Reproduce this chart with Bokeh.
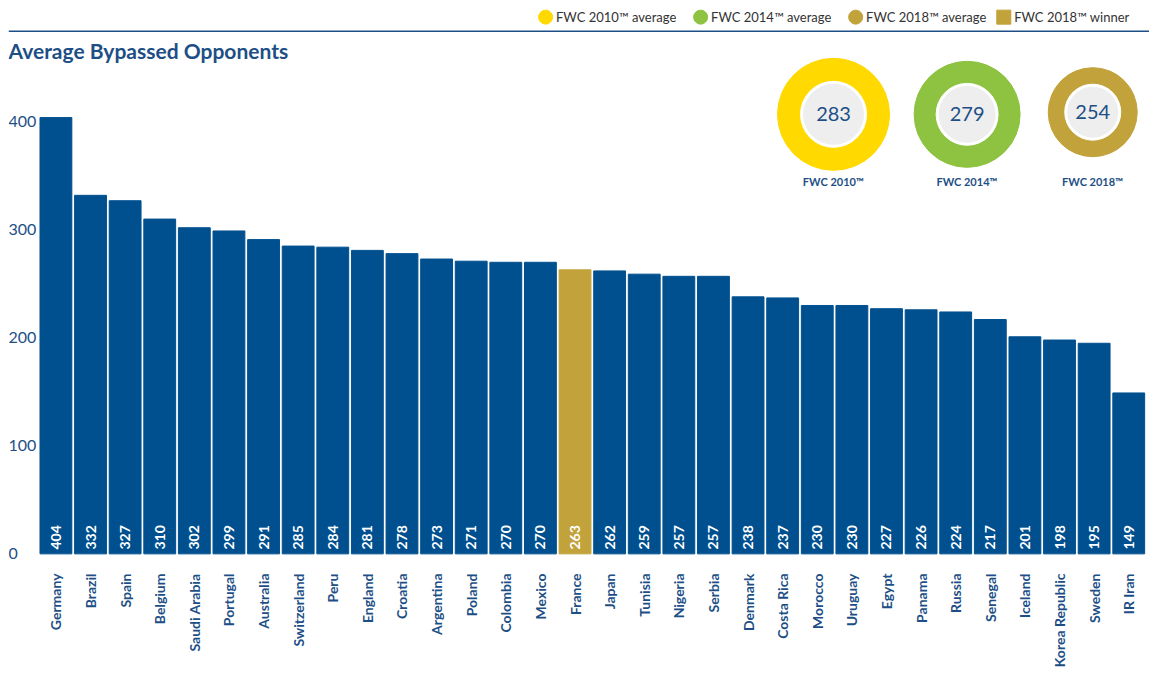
import math
from bokeh.plotting import figure
from bokeh.models import ColumnDataSource, Span, FixedTicker
from bokeh.core.properties import value
from bokeh.embed import file_html
from bokeh.resources import INLINE

teams = ["Germany","Brazil","Spain","Belgium","Saudi Arabia","Portugal","Australia","Switzerland","Peru","England",
         "Croatia","Argentina","Poland","Colombia","Mexico","France","Japan","Tunisia","Nigeria","Serbia",
         "Denmark","Costa Rica","Morocco","Uruguay","Egypt","Panama","Russia","Senegal","Iceland","Korea Republic",
         "Sweden","IR Iran"]
values = [404,332,327,310,302,299,291,285,284,281,278,273,271,270,270,263,262,259,257,257,
          238,237,230,230,227,226,224,217,201,198,195,149]
winner = "France"
y_ticks = [0, 100, 200, 300, 400]
avg_labels = ["FWC 2010™", "FWC 2014™", "FWC 2018™"]
avg_values = [283, 279, 254]
legend_labels = ["FWC 2010™ average", "FWC 2014™ average", "FWC 2018™ average", "FWC 2018™ winner"]

BLUE = "#00508f"
TXT = "#1d4f86"
GOLD = "#c2a23a"
ring_colors = ["#ffd900", "#8dc340", "#c2a23a"]

FONT = "Lato"
idx = list(range(len(teams)))
colors = [GOLD if t == winner else BLUE for t in teams]

p = figure(frame_width=1141, frame_height=554, x_range=(-1.37, 31.6), y_range=(-8, 505),
           output_backend="svg", toolbar_location=None, min_border_left=8, min_border_right=0,
           min_border_top=8)
p.outline_line_color = None
p.grid.visible = False
p.yaxis.visible = False
p.background_fill_color = "white"

src = ColumnDataSource(dict(x=idx, top=values, color=colors, lab=[str(v) for v in values]))
p.vbar(x="x", top="top", bottom=0, width=0.92, color="color", source=src)
p.text(x="x", y=4, text="lab", source=src, angle=math.pi/2, text_align="left", text_baseline="middle",
       text_color="white", text_font=value(FONT), text_font_size="14px", text_font_style="bold")

# y tick labels
p.text(x=[-1.37]*len(y_ticks), y=y_ticks, text=[str(t) for t in y_ticks], text_align="left",
       text_baseline="middle", text_color=TXT, text_font=value(FONT), text_font_size="16px")

# x axis
p.xaxis.ticker = FixedTicker(ticks=idx)
p.xaxis.major_label_overrides = {i: t for i, t in enumerate(teams)}
p.xaxis.major_label_orientation = math.pi/2
p.xaxis.major_label_text_color = TXT
p.xaxis.major_label_text_font = FONT
p.xaxis.major_label_text_font_size = "14px"
p.xaxis.major_label_text_font_style = "bold"
p.xaxis.axis_line_color = None
p.xaxis.major_tick_line_color = None
p.xaxis.minor_tick_line_color = None

# title
p.text(x=[-1.37], y=[466], text=["Average Bypassed Opponents"], text_baseline="middle",
       text_color=TXT, text_font=value(FONT), text_font_size="21px", text_font_style="bold")
p.add_layout(Span(location=484, dimension="width", line_color="#1d4f86", line_width=1.5))

# legend
lx = [14.15, 18.63, 23.11, 27.39]
lcol = ["#ffd900", "#8dc340", GOLD, GOLD]
p.scatter(x=lx[:3], y=[497]*3, size=14, color=lcol[:3], marker="circle")
p.scatter(x=lx[3:], y=[497], size=14, color=lcol[3:], marker="square")
p.text(x=[v + 0.3 for v in lx], y=[497]*4, text=legend_labels, text_baseline="middle",
       text_color="#333333", text_font=value(FONT), text_font_size="13px")

# donuts
dx = [22.47, 26.33, 29.96]
dy = [407, 407, 409]
p.scatter(x=dx, y=dy, size=[112, 106, 89], color=ring_colors, marker="circle")
p.scatter(x=dx, y=dy, size=[66, 62, 56], color="white", marker="circle")
p.scatter(x=dx, y=dy, size=[60, 56, 50], color="#eeeeee", marker="circle")
p.text(x=dx, y=dy, text=[str(v) for v in avg_values], text_align="center", text_baseline="middle",
       text_color=TXT, text_font=value(FONT), text_font_size="20px")
p.text(x=dx, y=[345]*3, text=avg_labels, text_align="center", text_baseline="middle",
       text_color=TXT, text_font=value(FONT), text_font_size="11px", text_font_style="bold")

open("out.html", "w").write(file_html(p, INLINE))
